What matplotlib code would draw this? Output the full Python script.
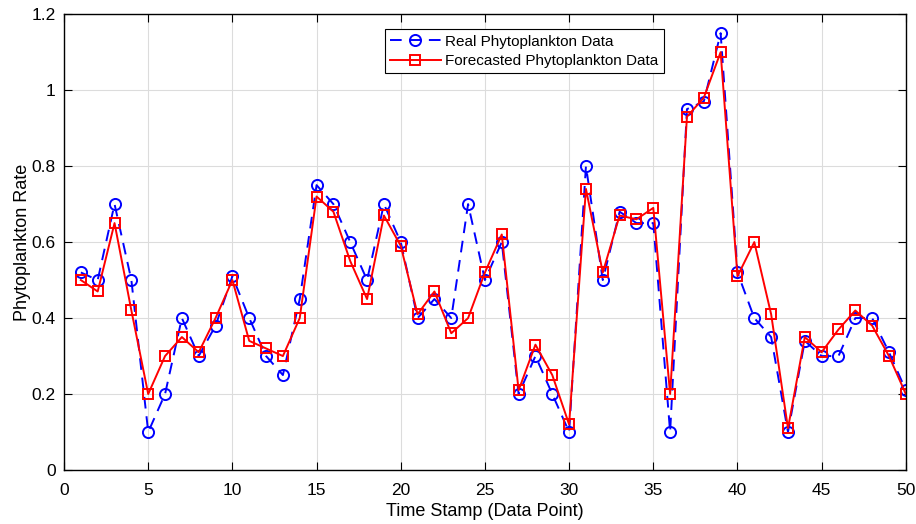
import matplotlib
matplotlib.use("Agg")
import matplotlib.pyplot as plt

plt.rcParams['font.family'] = ['Liberation Sans', 'DejaVu Sans']

# time stamps 1..50
time_stamp = list(range(1, 51))

real_data = [0.52, 0.50, 0.70, 0.50, 0.10, 0.20, 0.40, 0.30, 0.38, 0.51,
             0.40, 0.30, 0.25, 0.45, 0.75, 0.70, 0.60, 0.50, 0.70, 0.60,
             0.40, 0.45, 0.40, 0.70, 0.50, 0.60, 0.20, 0.30, 0.20, 0.10,
             0.80, 0.50, 0.68, 0.65, 0.65, 0.10, 0.95, 0.97, 1.15, 0.52,
             0.40, 0.35, 0.10, 0.34, 0.30, 0.30, 0.40, 0.40, 0.31, 0.21]

forecast_data = [0.50, 0.47, 0.65, 0.42, 0.20, 0.30, 0.35, 0.31, 0.40, 0.50,
                 0.34, 0.32, 0.30, 0.40, 0.72, 0.68, 0.55, 0.45, 0.67, 0.59,
                 0.41, 0.47, 0.36, 0.40, 0.52, 0.62, 0.21, 0.33, 0.25, 0.12,
                 0.74, 0.52, 0.67, 0.66, 0.69, 0.20, 0.93, 0.98, 1.10, 0.51,
                 0.60, 0.41, 0.11, 0.35, 0.31, 0.37, 0.42, 0.38, 0.30, 0.20]

x_ticks = [0, 5, 10, 15, 20, 25, 30, 35, 40, 45, 50]
y_ticks = [0, 0.2, 0.4, 0.6, 0.8, 1.0, 1.2]
y_tick_labels = ['0', '0.2', '0.4', '0.6', '0.8', '1', '1.2']

fig = plt.figure(figsize=(9.16, 5.24), dpi=100)
ax = fig.add_axes([0.0699, 0.103, 0.919, 0.870])

ax.plot(time_stamp, real_data, color='#0000ff', linestyle=(0, (6, 4)),
        linewidth=1.4, marker='o', markersize=8, markerfacecolor='none',
        markeredgewidth=1.4, label='Real Phytoplankton Data')
ax.plot(time_stamp, forecast_data, color='#ff0000', linestyle='-',
        linewidth=1.4, marker='s', markersize=6.5, markerfacecolor='none',
        markeredgewidth=1.4, label='Forecasted Phytoplankton Data')

ax.set_xlim(0, 50)
ax.set_ylim(0, 1.2)
ax.set_xticks(x_ticks)
ax.set_yticks(y_ticks)
ax.set_yticklabels(y_tick_labels)
ax.tick_params(direction='in', length=6, width=0.8, labelsize=12.5,
               top=True, right=True)
ax.tick_params(axis='x', pad=9)
ax.tick_params(axis='y', pad=6)
ax.grid(True, color='#dcdcdc', linewidth=0.8)
ax.set_axisbelow(True)
for s in ax.spines.values():
    s.set_linewidth(1.0)

ax.set_xlabel('Time Stamp (Data Point)', fontsize=13, labelpad=4)
ax.set_ylabel('Phytoplankton Rate', fontsize=13, labelpad=0)

leg = ax.legend(loc='upper left', bbox_to_anchor=(0.381, 0.967), fontsize=11,
                fancybox=False, framealpha=1, edgecolor='black',
                borderpad=0.35, labelspacing=0.35, handlelength=3.3,
                handletextpad=0.3, borderaxespad=0)
leg.get_frame().set_linewidth(0.8)

fig.savefig('out.png', dpi=100)
